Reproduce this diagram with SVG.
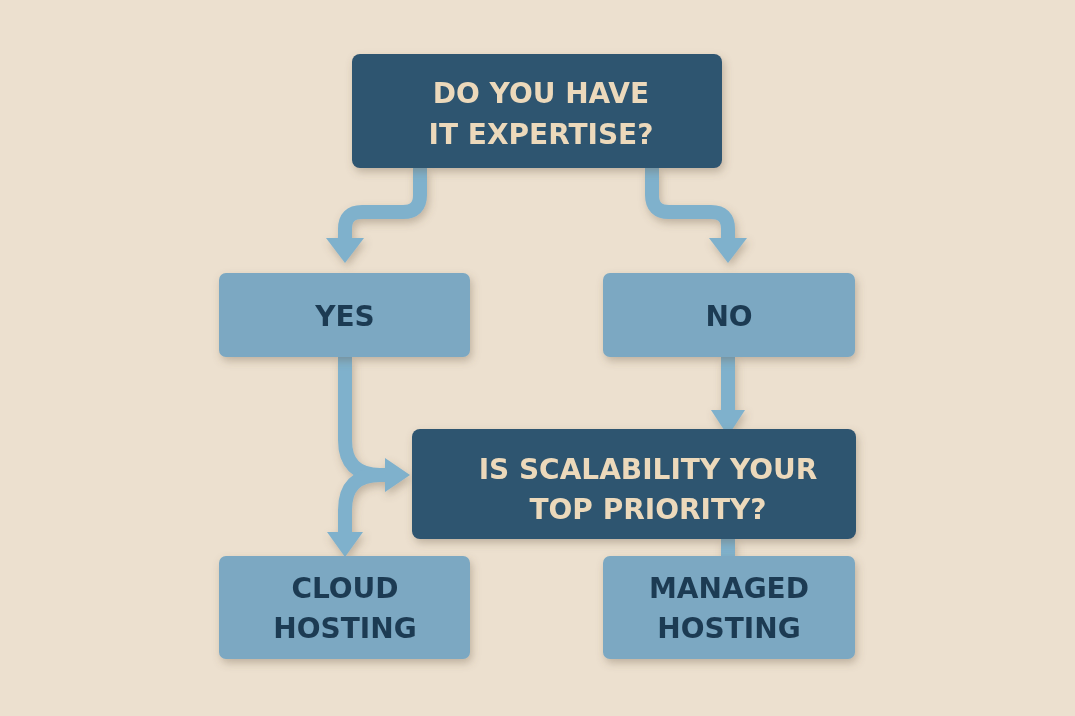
<svg xmlns="http://www.w3.org/2000/svg" width="1075" height="716" viewBox="0 0 1075 716">
<style>
.dark{fill:#2d5470}
.light{fill:#7ba8c2}
.dt{font-family:"DejaVu Sans",sans-serif;font-weight:bold;font-size:28px;fill:#ecd9bb;text-anchor:middle}
.lt{font-family:"DejaVu Sans",sans-serif;font-weight:bold;font-size:28px;fill:#1f3b52;text-anchor:middle}
.c{fill:none;stroke:#7fb1cc;stroke-width:14}
.h{fill:#7fb1cc}
</style>
<defs><filter id="s" x="-10%" y="-10%" width="120%" height="130%"><feDropShadow dx="2" dy="4" stdDeviation="4" flood-color="#6b5a40" flood-opacity="0.35"/></filter></defs>
<rect width="1075" height="716" fill="#ece0cf"/>
<g id="connectors" filter="url(#s)">
<path class="c" d="M420 168V195Q420 212 403 212H362Q345 212 345 229V240"/>
<polygon class="h" points="326,238 364,238 345,263"/>
<path class="c" d="M652 168V195Q652 212 669 212H711Q728 212 728 229V240"/>
<polygon class="h" points="709,238 747,238 728,263"/>
<path class="c" d="M728 357V412"/>
<polygon class="h" points="711,410 745,410 728,436"/>
<path class="c" d="M345 357V440Q345 475 380 475H388"/>
<polygon class="h" points="385,458 385,492 410,475"/>
<path class="c" d="M380 475Q345 475 345 510V535"/>
<polygon class="h" points="327,532 363,532 345,557"/>
<path class="c" d="M728 539V556"/>
</g>
<g id="n1" filter="url(#s)"><rect class="dark" x="352" y="54" width="370" height="114" rx="8"/><text class="dt" x="541" y="103">DO YOU HAVE</text><text class="dt" x="541" y="144">IT EXPERTISE?</text></g>
<g id="n2" filter="url(#s)"><rect class="light" x="219" y="273" width="251" height="84" rx="7"/><text class="lt" x="345" y="326">YES</text></g>
<g id="n3" filter="url(#s)"><rect class="light" x="603" y="273" width="252" height="84" rx="7"/><text class="lt" x="729" y="326">NO</text></g>
<g id="n4" filter="url(#s)"><rect class="dark" x="412" y="429" width="444" height="110" rx="8"/><text class="dt" x="648" y="479">IS SCALABILITY YOUR</text><text class="dt" x="648" y="519">TOP PRIORITY?</text></g>
<g id="n5" filter="url(#s)"><rect class="light" x="219" y="556" width="251" height="103" rx="7"/><text class="lt" x="345" y="598">CLOUD</text><text class="lt" x="345" y="638">HOSTING</text></g>
<g id="n6" filter="url(#s)"><rect class="light" x="603" y="556" width="252" height="103" rx="7"/><text class="lt" x="729" y="598">MANAGED</text><text class="lt" x="729" y="638">HOSTING</text></g>
</svg>
